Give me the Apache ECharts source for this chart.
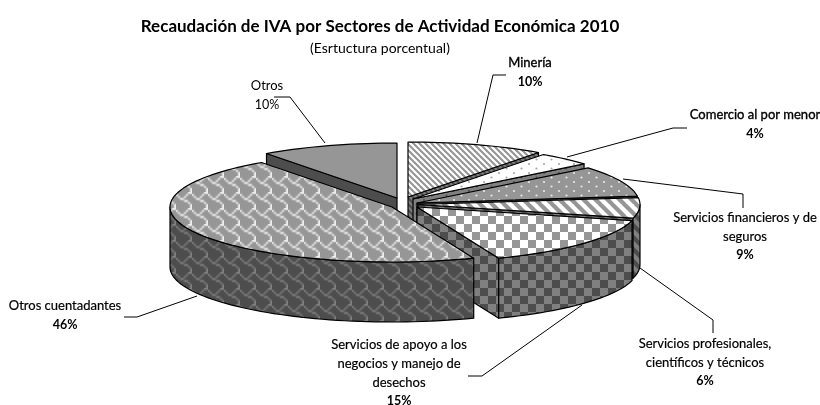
<!DOCTYPE html>
<html><head><meta charset="utf-8">
<style>html,body{margin:0;padding:0;background:#fff}#c{width:820px;height:405px}</style>
<script src="https://cdn.jsdelivr.net/npm/echarts@6/dist/echarts.min.js"></script>
</head><body><div id="c"></div>
<script>
// ---- data (clockwise from 12 o'clock) ----
const categories = ['Minería','Comercio al por menor','Servicios financieros y de seguros','Servicios profesionales, científicos y técnicos','Servicios de apoyo a los negocios y manejo de desechos','Otros cuentadantes','Otros'];
const values = [10,4,9,6,15,46,10];
const labelLines = [['Minería'],['Comercio al por menor'],['Servicios financieros y de','seguros'],['Servicios profesionales,','científicos y técnicos'],['Servicios de apoyo a los','negocios y manejo de','desechos'],['Otros cuentadantes'],['Otros']];

// ---- geometry & style ----
const RX=222, RY=55, DEPTH=60;
const centers=[[408,197],[413,199],[417,203],[418,204.5],[417,207],[392,207],[397,198]];
const zOrder=[1,2,3,4,5,6,0];
const labelPos=[[530,63],[755,115],[745,218],[705,344],[399,345],[65,306],[267,86]];
const nameStroke=[0.35,0.35,0.2,0.2,0.2,0.2,0];
const pctBold=[true,true,true,true,true,true,false];
const leaders=[[[477,143],[493,75],[506,75]],[[567,157],[673,128],[687,128]],[[623,179],[743,194],[743,208]],[[640,268],[713,320],[713,333]],[[582,305],[482,376],[468,376]],[[197,296],[137,317],[124,317]],[[325,143],[290,97],[274,97]]];
const FONT='Lato, "Open Sans", sans-serif';

function tile(w,h,draw){const c=document.createElement('canvas');c.width=w;c.height=h;draw(c.getContext('2d'),w,h);return c;}
function stripes(p,lw,a,b){return tile(p,p,(x,w)=>{x.fillStyle=a;x.fillRect(0,0,w,w);x.strokeStyle=b;x.lineWidth=lw;for(let k=-1;k<=1;k++){x.beginPath();x.moveTo(k*p-1,-1);x.lineTo(k*p+p+1,p+1);x.stroke();}});}
function dots(a,b,r){return tile(15,9,(x)=>{x.fillStyle=a;x.fillRect(0,0,15,9);x.fillStyle=b;[[4,2],[11.5,6.5]].forEach(d=>{x.beginPath();x.arc(d[0],d[1],r,0,7);x.fill();});});}
function check(a,b){return tile(16,16,(x)=>{x.fillStyle=a;x.fillRect(0,0,16,16);x.fillStyle=b;x.fillRect(0,0,8,8);x.fillRect(8,8,8,8);});}
function shingle(a,b){
  const rows=[0x03,0x84,0x48,0x30,0x0c,0x02,0x01,0x01];
  const s=tile(8,8,(x)=>{x.fillStyle=a;x.fillRect(0,0,8,8);x.fillStyle=b;rows.forEach((r,y)=>{for(let i=0;i<8;i++) if(r&(1<<(7-i))) x.fillRect(i,y,1,1);});});
  return tile(16,16,(x)=>{x.imageSmoothingEnabled=true;for(let i=-1;i<=1;i++)for(let j=-1;j<=1;j++)x.drawImage(s,i*16,j*16,16,16);});
}
const pat=c=>({image:c,repeat:'repeat'});
const G='#969696',W='#ffffff',DG='#4d4d4d',DW='#808080';
const topFill=[pat(stripes(6,2.1,W,G)),pat(dots(W,'#a8a8a8',1.1)),pat(dots(G,'#e8e8e8',1.1)),pat(stripes(12,4.2,W,G)),pat(check(W,G)),pat(shingle(G,'#f0f0f0')),G];
const sideFill=[pat(stripes(6,2.1,DW,DG)),pat(dots(DW,DG,1)),pat(dots(DG,DW,1.1)),pat(stripes(12,4.2,DW,DG)),pat(check(DW,DG)),pat(shingle(DG,DW)),DG];

const total=values.reduce((a,b)=>a+b,0);
const startDeg=[];values.reduce((acc,v,i)=>{startDeg[i]=acc;return acc+v/total*360;},0);

function pt(c,deg,dz){const t=deg*Math.PI/180;return [c[0]+RX*Math.sin(t),c[1]-RY*Math.cos(t)+(dz||0)];}
function arc(c,a,b,dz){const n=Math.max(2,Math.ceil(Math.abs(b-a)/2)),o=[];for(let i=0;i<=n;i++)o.push(pt(c,a+(b-a)*i/n,dz));return o;}

function renderItem(params,api){
  const i=params.dataIndex,v=api.value(0),c=centers[i];
  const s=startDeg[i],e=s+v/total*360,ch=[];
  const base=zOrder[i]*10;
  const style=(f)=>({fill:f,stroke:'#000',lineWidth:1.2,lineJoin:'round'});
  const poly=(pts,f,z)=>ch.push({type:'polygon',shape:{points:pts},style:style(f),z2:base+z});
  const face=(d)=>{const p=pt(c,d);poly([c,p,[p[0],p[1]+DEPTH],[c[0],c[1]+DEPTH]],sideFill[i],1);};
  if(Math.sin(e*Math.PI/180)>0) face(e);
  if(Math.sin(s*Math.PI/180)<0) face(s);
  const a=Math.max(s,90),b=Math.min(e,270);
  if(b>a){poly(arc(c,a,b,0).concat(arc(c,b,a,DEPTH)),sideFill[i],2);}
  poly([c].concat(arc(c,s,e,0)),topFill[i],3);
  // leader + label
  ch.push({type:'polyline',shape:{points:leaders[i]},style:{stroke:'#000',lineWidth:1,fill:null},z2:200});
  const lp=labelPos[i],lh=18.7;
  labelLines[i].forEach((t,k)=>ch.push({type:'text',x:lp[0],y:lp[1]+k*lh,z2:201,style:{text:t,align:'center',verticalAlign:'middle',fill:'#000',stroke:nameStroke[i]?'#000':null,lineWidth:nameStroke[i],font:'13px '+FONT}}));
  ch.push({type:'text',x:lp[0],y:lp[1]+labelLines[i].length*lh,z2:201,style:{text:Math.round(v/total*100)+'%',align:'center',verticalAlign:'middle',fill:'#000',font:(pctBold[i]?'bold ':'')+'12.5px '+FONT}});
  return {type:'group',children:ch};
}

const chart=echarts.init(document.getElementById('c'),null,{renderer:'canvas'});
chart.setOption({
  animation:false,backgroundColor:'#fff',
  title:{text:'Recaudación de IVA por Sectores de Actividad Económica 2010',subtext:'(Esrtuctura porcentual)',left:375,top:13,textAlign:'center',itemGap:6,
    textStyle:{fontFamily:FONT,fontWeight:'bold',fontSize:17,color:'#000'},subtextStyle:{fontFamily:FONT,fontSize:14,color:'#000'}},
  series:[{type:'custom',coordinateSystem:'none',silent:true,renderItem,clip:false,
    data:values.map((v,i)=>({name:categories[i],value:v}))}]
});
</script></body></html>
